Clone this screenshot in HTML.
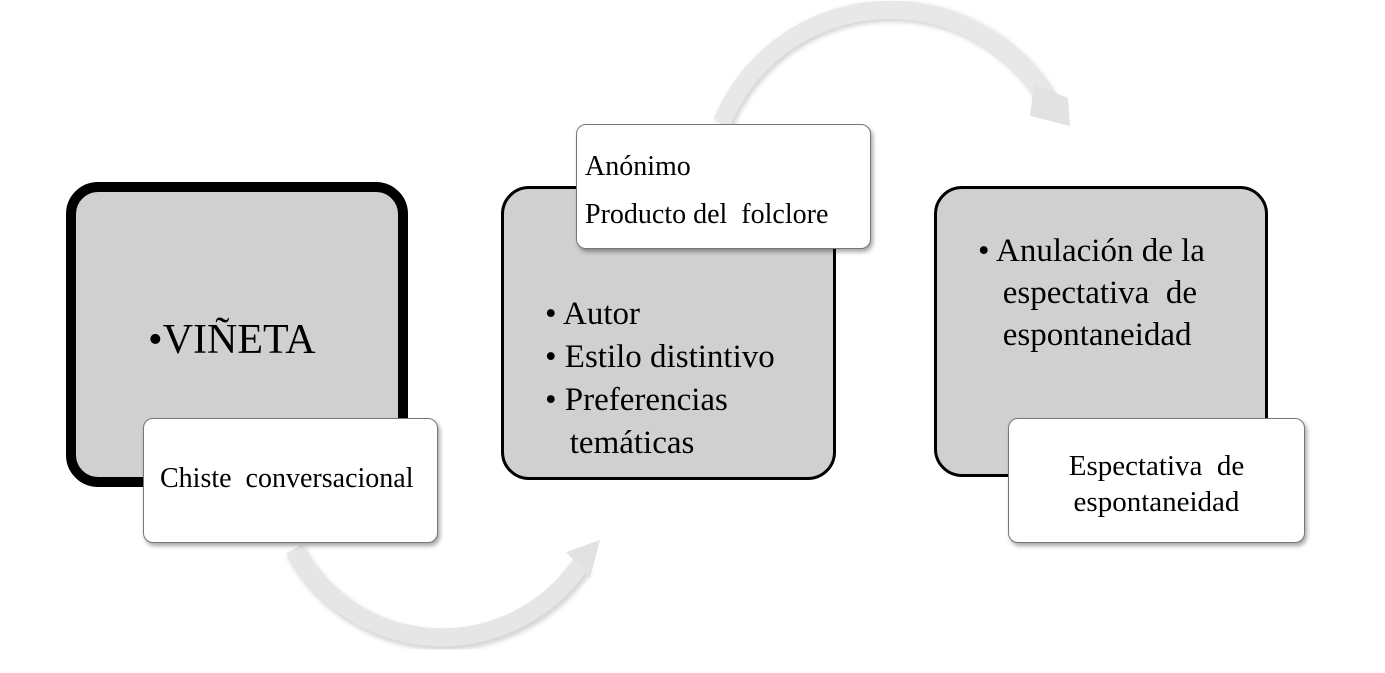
<!DOCTYPE html>
<html><head><meta charset="utf-8"><style>
body{margin:0;width:1385px;height:673px;background:#fff;position:relative;overflow:hidden;color:#000}
.b{position:absolute;box-sizing:border-box;background:#d0d0d0;border:3px solid #000;border-radius:28px}
.w{position:absolute;box-sizing:border-box;background:#fff;border:1px solid #777;border-radius:10px;box-shadow:2px 3px 4px rgba(0,0,0,.35)}
.t{position:absolute;white-space:nowrap;font-family:"Liberation Serif","Times New Roman",serif}
</style></head><body>
<svg width="1385" height="673" style="position:absolute;left:0;top:0">
<defs><filter id="s"><feGaussianBlur stdDeviation="2"/></filter></defs>
<g filter="url(#s)" opacity="0.4"><path d="M296 552 A168 168 0 0 0 582 568" stroke="#999" stroke-width="20" fill="none"/></g>
<path d="M294 549 A168 168 0 0 0 580 565" stroke="#e6e6e6" stroke-width="18" fill="none"/>
<polygon points="566,552 600,540 590,578" fill="#e2e2e2"/>
<g filter="url(#s)" opacity="0.4"><path d="M724 124 A182 182 0 0 1 1048 100" stroke="#999" stroke-width="20" fill="none"/></g>
<path d="M722 122 A182 182 0 0 1 1046 98" stroke="#e8e8e8" stroke-width="18" fill="none"/>
<polygon points="1034,84 1068,98 1070,126 1030,116" fill="#e2e2e2"/>
</svg>
<div class="b" style="left:66px;top:182px;width:342px;height:305px;border-width:10px;border-radius:32px"></div>
<div class="t" style="left:148px;top:316px;font-size:42px">•VIÑETA</div>
<div class="w" style="left:143px;top:418px;width:295px;height:125px"></div>
<div class="t" style="left:160px;top:463px;font-size:28px">Chiste&nbsp; conversacional</div>

<div class="b" style="left:501px;top:186px;width:335px;height:294px"></div>
<div class="t" style="left:545px;top:293px;font-size:33px;line-height:43px">• Autor<br>• Estilo distintivo<br>• Preferencias<br>&nbsp;&nbsp;&nbsp;temáticas</div>
<div class="w" style="left:576px;top:124px;width:295px;height:125px"></div>
<div class="t" style="left:585px;top:143px;font-size:28px;line-height:48px">Anónimo<br>Producto del&nbsp; folclore</div>

<div class="b" style="left:934px;top:186px;width:334px;height:291px"></div>
<div class="t" style="left:978px;top:230px;font-size:33px;line-height:42px">• Anulación de la<br>&nbsp;&nbsp;&nbsp;espectativa&nbsp; de<br>&nbsp;&nbsp;&nbsp;espontaneidad</div>
<div class="w" style="left:1008px;top:418px;width:297px;height:125px"></div>
<div class="t" style="left:1008px;top:448px;width:297px;text-align:center;font-size:29px;line-height:36px">Espectativa&nbsp; de<br>espontaneidad</div>
</body></html>
